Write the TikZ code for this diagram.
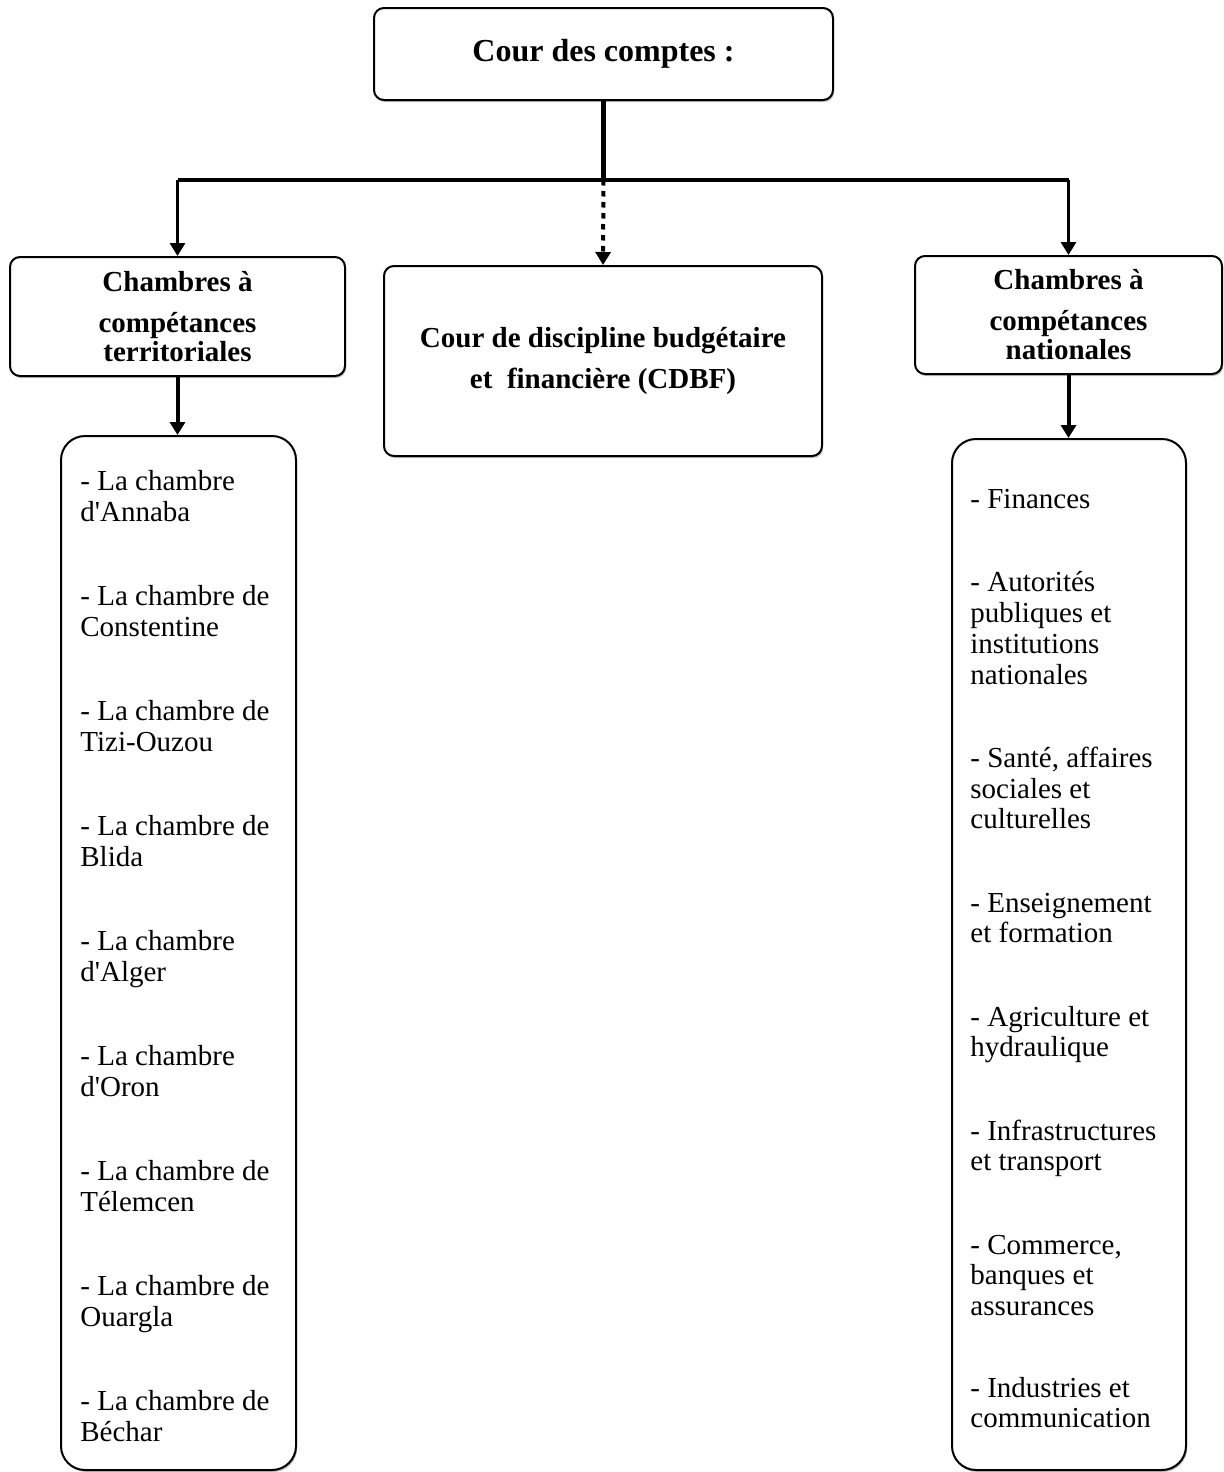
\documentclass[tikz,border=0pt]{standalone}
\usepackage{fontspec}
\setmainfont{Liberation Serif}
\usetikzlibrary{arrows.meta,shadows}
\begin{document}
\begin{tikzpicture}[x=0.5pt,y=-0.5pt,
  box/.style={draw=black,line width=1pt,fill=white,rounded corners=5pt,
    align=center,inner sep=0pt,
    drop shadow={shadow xshift=0.6pt,shadow yshift=-1pt,fill=black,opacity=0.25}},
  listbox/.style={box,rounded corners=12pt},
  headfont/.style={font=\bfseries\fontsize{14.5}{14.5}\selectfont},
  listtext/.style={align=left,inner sep=0pt,anchor=north west,
    font=\fontsize{14.5}{15.5}\selectfont},
  tip/.style={-{Triangle[length=6.5pt,width=7.5pt]}},
]
\useasboundingbox (0,0) rectangle (1223,1472);

\node[box,minimum width=229.5pt,minimum height=46pt,
  font=\bfseries\fontsize{16}{19}\selectfont] (top) at (603.5,54) {Cour des comptes :};

\node[box,headfont,minimum width=167.5pt,minimum height=59.5pt] (lbox) at (177.5,316.5)
  {Chambres à\\[6pt]compétances\\territoriales};
\node[box,font=\bfseries\fontsize{14.5}{20.5}\selectfont,minimum width=219pt,minimum height=95pt] (mbox) at (603,361)
  {Cour de discipline budgétaire\\et\ \ financière (CDBF)};
\node[box,headfont,minimum width=153.5pt,minimum height=59pt] (rbox) at (1068.5,315)
  {Chambres à\\[6pt]compétances\\nationales};

\node[listbox,minimum width=117.5pt,minimum height=517pt] (llist) at (178.5,953) {};
\node[listbox,minimum width=117pt,minimum height=515.5pt] (rlist) at (1069,954.5) {};

\node[listtext] (ltext) at (80,468.3) {\strut - La chambre\\d\textquotesingle Annaba\\[26.5pt]%
- La chambre de\\Constentine\\[26.5pt]%
- La chambre de\\Tizi-Ouzou\\[26.5pt]%
- La chambre de\\Blida\\[26.5pt]%
- La chambre\\d\textquotesingle Alger\\[26.5pt]%
- La chambre\\d\textquotesingle Oron\\[26.5pt]%
- La chambre de\\Télemcen\\[26.5pt]%
- La chambre de\\Ouargla\\[26.5pt]%
- La chambre de\\Béchar};

\node[listtext,font=\fontsize{14.5}{15.35}\selectfont] (rtext) at (970,486.3) {\strut - Finances\\[26.5pt]%
- Autorités\\publiques et\\institutions\\nationales\\[26.3pt]%
- Santé, affaires\\sociales et\\culturelles\\[26.3pt]%
- Enseignement\\et formation\\[26.3pt]%
- Agriculture et\\hydraulique\\[26.3pt]%
- Infrastructures\\et transport\\[26.3pt]%
- Commerce,\\banques et\\assurances\\[25.5pt]%
- Industries et\\communication};

\coordinate (j) at (top.south |- 0,180);
\coordinate (jl) at (lbox.north |- j);
\coordinate (jr) at (rbox.north |- j);

\draw[line width=2.5pt] (top.south) -- (j);
\draw[line width=2.2pt] (jl) -- (jr);
\draw[tip,line width=1.5pt] (jl) -- (lbox.north);
\draw[tip,line width=1.5pt] (jr) -- (rbox.north);
\draw[tip,line width=2pt,dash pattern=on 2.75pt off 2.75pt] (j) -- (mbox.north);
\draw[tip,line width=2pt] (lbox.south) -- (lbox.south |- llist.north);
\draw[tip,line width=2pt] (rbox.south) -- (rbox.south |- rlist.north);
\end{tikzpicture}
\end{document}
